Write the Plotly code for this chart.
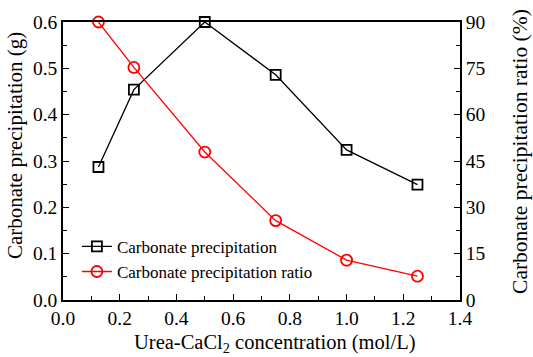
import plotly.graph_objects as go

conc = [0.125, 0.25, 0.5, 0.75, 1.0, 1.25]
precip = [0.287, 0.454, 0.600, 0.486, 0.324, 0.249]
ratio = [90.0, 75.3, 47.9, 25.7, 12.9, 7.7]

x_title = "Urea-CaCl<sub>2</sub> concentration (mol/L)"
y_title = "Carbonate precipitation (g)"
y2_title = "Carbonate precipitation ratio (%)"

FONT = "'Times New Roman', 'Liberation Serif', serif"

fig = go.Figure()
fig.add_trace(go.Scatter(
    x=conc, y=precip, name="Carbonate precipitation", mode="lines+markers",
    line=dict(color="black", width=1.3),
    marker=dict(symbol="square-open", size=10, color="black", line=dict(width=1.8)),
    cliponaxis=False,
))
fig.add_trace(go.Scatter(
    x=conc, y=ratio, name="Carbonate precipitation ratio", mode="lines+markers",
    yaxis="y2",
    line=dict(color="red", width=1.3),
    marker=dict(symbol="circle-open", size=11, color="red", line=dict(width=1.8)),
    cliponaxis=False,
))

axis_common = dict(
    showgrid=False, zeroline=False, showline=True, linecolor="black", linewidth=1.5,
    ticks="inside", ticklen=6, tickwidth=1.3, tickcolor="black",
    tickfont=dict(family=FONT, size=19.5, color="black"),
)

title_font = dict(family=FONT, size=21, color="black")

fig.update_layout(
    width=533, height=357,
    margin=dict(l=63, r=73, t=20, b=57),
    plot_bgcolor="white", paper_bgcolor="white",
    font=dict(family=FONT, color="black"),
    xaxis=dict(
        range=[0, 1.4], dtick=0.2, tickformat=".1f", mirror=True,
        minor=dict(ticks="inside", dtick=0.1, ticklen=4, tickcolor="black"),
        **axis_common,
    ),
    yaxis=dict(
        range=[0, 0.6], dtick=0.1, tickformat=".1f",
        minor=dict(ticks="inside", dtick=0.05, ticklen=4, tickcolor="black"),
        **axis_common,
    ),
    yaxis2=dict(
        range=[0, 90], dtick=15, overlaying="y", side="right",
        minor=dict(ticks="inside", dtick=7.5, ticklen=4, tickcolor="black"),
        **axis_common,
    ),
    legend=dict(
        x=0.035, y=0.256, xanchor="left", yanchor="top",
        bgcolor="rgba(0,0,0,0)", font=dict(family=FONT, size=17, color="black"),
        tracegroupgap=0, itemwidth=30,
    ),
    annotations=[
        dict(text=x_title, xref="paper", yref="paper", x=0.534, y=-0.158,
             xanchor="center", yanchor="middle", showarrow=False,
             font=dict(family=FONT, size=20.5, color="black")),
        dict(text=y_title, xref="paper", yref="paper", x=-0.121, y=0.557,
             xanchor="center", yanchor="middle", textangle=-90, showarrow=False,
             font=title_font),
        dict(text=y2_title, xref="paper", yref="paper", x=1.151, y=0.536,
             xanchor="center", yanchor="middle", textangle=-90, showarrow=False,
             font=dict(family=FONT, size=21.5, color="black")),
    ],
)

fig.write_html("out.html", config={"displayModeBar": False},
               post_script="document.body.style.margin='0';")
